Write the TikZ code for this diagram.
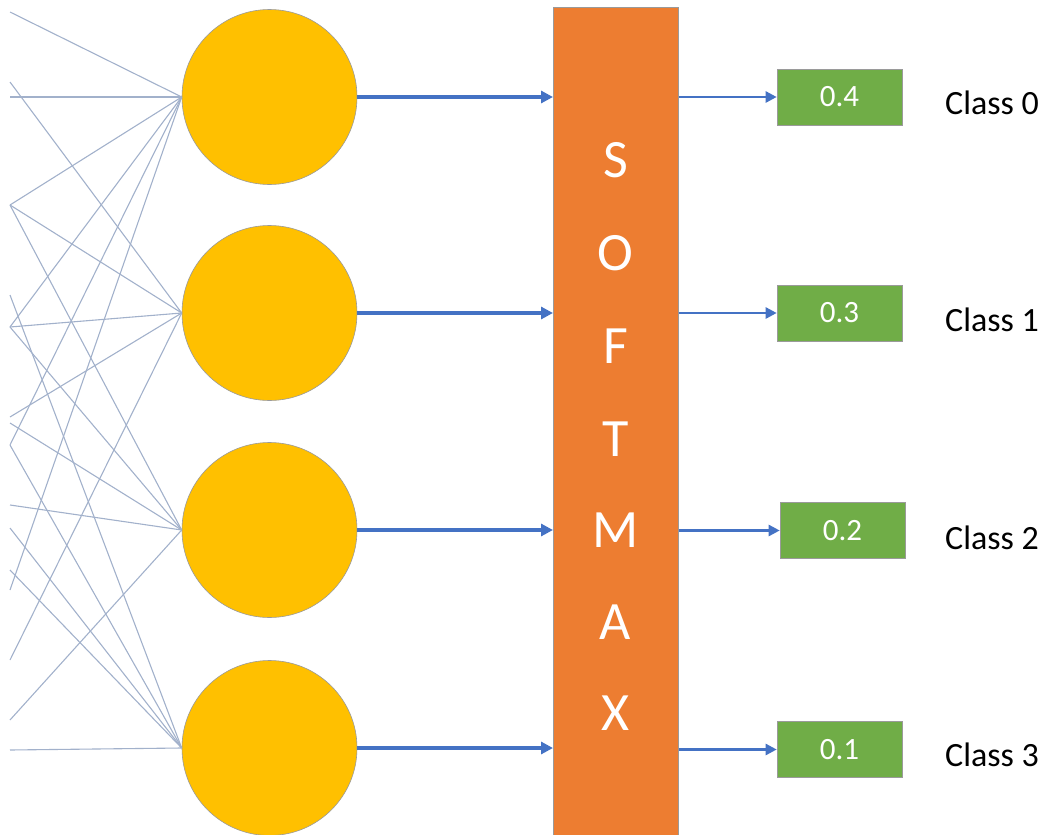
\documentclass[tikz,border=0pt]{standalone}
\usepackage{fontspec}
\setmainfont{Carlito}
\usetikzlibrary{arrows.meta,calc}
\definecolor{gold}{HTML}{FFC000}
\definecolor{smorange}{HTML}{ED7D31}
\definecolor{probgreen}{HTML}{70AD47}
\definecolor{arrowblue}{HTML}{4472C4}
\definecolor{wire}{HTML}{A2B1CB}
\definecolor{rim}{HTML}{9A9A9A}
\tikzset{
  neuron/.style={circle,fill=gold,draw=rim,line width=0.6pt,minimum size=175pt,inner sep=0pt},
  probbox/.style={rectangle,fill=probgreen,draw=rim,line width=0.6pt,minimum width=125pt,minimum height=56pt,
    inner sep=0pt,text=white,font=\fontsize{31}{31}\selectfont},
  classlabel/.style={anchor=west,inner sep=0pt,font=\fontsize{34}{34}\selectfont},
  letter/.style={text=white,inner sep=0pt,font=\fontsize{54}{54}\selectfont},
  wireline/.style={draw=wire,line width=1.1pt},
  feedarrow/.style={draw=arrowblue,line width=3.2pt,-{Triangle[length=12pt,width=12pt]}},
  probarrow/.style={draw=arrowblue,line width=2.5pt,-{Triangle[length=11pt,width=11pt]}},
}
\begin{document}
\begin{tikzpicture}[x=1pt,y=-1pt]
\clip (0,0) rectangle (1045,835);
\useasboundingbox (0,0) rectangle (1045,835);

% hidden neurons
\node[neuron] (n0) at (269.5,97) {};
\node[neuron] (n1) at (269.5,313) {};
\node[neuron] (n2) at (269.5,530) {};
\node[neuron] (n3) at (269.5,748) {};

% incoming connections from the previous layer (cut at the left edge)
\foreach \name/\y in {a/12,b/82,c/97,d/205,e/295,f/327,g/417,g2/423,h/445,i/505,j/528,k/570,l/590,m/660,n/720,o/750}
  \coordinate (in\name) at (10,\y);
\foreach \src in {a,c,d,f,h,l} \draw[wireline] (in\src) -- (n0.west);
\foreach \src in {b,d,f,g,m} \draw[wireline] (in\src) -- (n1.west);
\foreach \src in {d,f,g2,i,n} \draw[wireline] (in\src) -- (n2.west);
\foreach \src in {e,h,j,k,o} \draw[wireline] (in\src) -- (n3.west);

% softmax block
\node[rectangle,fill=smorange,draw=rim,line width=0.6pt,minimum width=125pt,minimum height=840pt,
      anchor=north west,inner sep=0pt] (softmax) at (553,7) {};
\foreach \ch/\y [count=\i] in {S/160,O/253,F/346,T/439,M/530,A/622,X/713}
  \node[letter] (ch\i) at (615.5,\y) {\ch};

% probabilities
\node[probbox] (p0) at (839.5,97) {0.4};
\node[probbox] (p1) at (839.5,313) {0.3};
\node[probbox] (p2) at (842.5,530.5) {0.2};
\node[probbox] (p3) at (839.5,749.5) {0.1};

\node[classlabel] (k0) at (945,103) {Class 0};
\node[classlabel] (k1) at (945,320) {Class 1};
\node[classlabel] (k2) at (945,538) {Class 2};
\node[classlabel] (k3) at (945,755) {Class 3};

% arrows into and out of the softmax block
\foreach \i in {0,1,2,3} {
  \draw[feedarrow] (n\i.east) -- (n\i.east -| softmax.west);
  \draw[probarrow] (p\i.west -| softmax.east) -- (p\i.west);
}
\end{tikzpicture}
\end{document}
